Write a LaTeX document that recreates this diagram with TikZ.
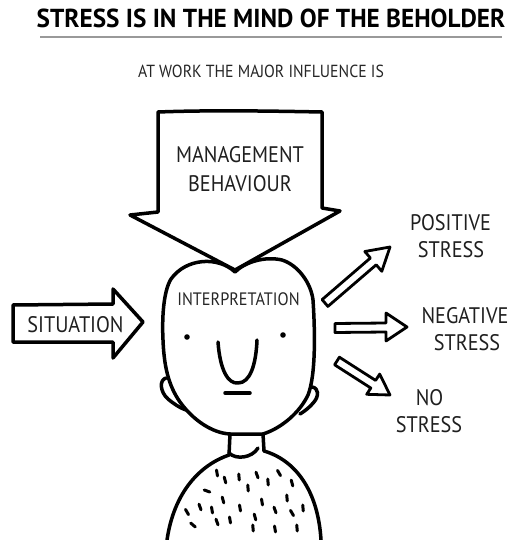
\documentclass[tikz,border=0pt]{standalone}
\usepackage{fontspec}
\setmainfont{PT Sans}
\newfontfamily\narrowfont[FakeStretch=0.9]{PT Sans}
\newfontfamily\titlefont[FakeStretch=0.97]{PT Sans Bold}
\begin{document}
\begin{tikzpicture}[x=1pt,y=-1pt,
  ink/.style={line width=3.5pt, line join=round, line cap=round},
  thinink/.style={line width=2.8pt, line join=round, line cap=round},
  lbl/.style={font=\narrowfont\fontsize{22.5}{24}\selectfont, text=black!88, inner sep=0pt, anchor=base},
  smalllbl/.style={font=\narrowfont\fontsize{17.5}{20}\selectfont, text=black!85, inner sep=0pt, anchor=base},
  speck/.style={line width=3pt, line cap=round}]
\fill[white] (0,0) rectangle (509,540);
\useasboundingbox (0,0) rectangle (509,540);

% heading
\node[font=\titlefont\fontsize{26}{28}\selectfont, inner sep=0pt, anchor=base] (title) at (271,28) {STRESS IS IN THE MIND OF THE BEHOLDER};
\draw[black!40, line width=1.8pt] (40,37) -- (502,37);
\node[smalllbl] (sub) at (261,78) {AT WORK THE MAJOR INFLUENCE IS};

% head
\draw[ink] (235,272) .. controls (218,256) and (186,258) .. (171,279)
  .. controls (163,292) and (162,320) .. (163,340)
  .. controls (164,365) and (168,385) .. (180,402)
  .. controls (193,420) and (212,433) .. (230,434)
  -- (263,434)
  .. controls (282,428) and (300,412) .. (308,395)
  .. controls (316,375) and (315,330) .. (313,300)
  .. controls (311,283) and (298,265) .. (282,260)
  .. controls (265,256) and (245,262) .. (235,272) -- cycle;
% ears
\draw[ink] (166,378) .. controls (159,380) and (160,392) .. (168,399)
  .. controls (174,404) and (180,408) .. (186,410);
\draw[ink] (312,387) .. controls (319,388) and (319,396) .. (314,402)
  .. controls (310,407) and (305,411) .. (300,414);
% face
\fill (187,337) circle (2.8pt);
\fill (283,335) circle (2.8pt);
\draw[ink] (218,342) .. controls (220,370) and (228,384) .. (238,383)
  .. controls (250,383) and (256,365) .. (257,340);
\draw[ink] (225,393) -- (250,393);
% neck, collar and shoulders
\draw[ink] (230,434) -- (229,455);
\draw[ink] (263,434) -- (264,451);
\draw[ink] (229,453) .. controls (236,460) and (252,458) .. (258,448);
\draw[ink] (229,455) .. controls (200,465) and (174,492) .. (167,540);
\draw[ink] (264,451) .. controls (295,460) and (318,490) .. (321,540);
% jumper specks
\foreach \x/\y/\a in {217/473/80,225/480/75,239/477/85,257/475/70,268/482/85,279/473/60,292/483/75,
  207/491/20,248/488/85,287/498/85,223/500/75,262/502/80,
  187/512/60,200/507/70,212/510/80,240/508/80,275/510/70,292/513/60,303/508/85,
  193/525/40,217/522/70,230/520/80,255/517/75,253/528/85,275/529/80,297/528/85}
  \draw[speck] (\x,\y) ++(\a:3) -- ++(\a+180:6);

% management arrow pointing down onto the head
\filldraw[ink, fill=white] (158,112) .. controls (210,110) and (270,111) .. (322,112)
  -- (322,208) -- (340,211) -- (235,270) -- (130,215) -- (158,212) -- cycle;
\node[lbl] (mgmt1) at (240,163) {MANAGEMENT};
\node[lbl] (mgmt2) at (240,191) {BEHAVIOUR};
\node[font=\narrowfont\fontsize{18}{19}\selectfont, text=black!85, inner sep=0pt, anchor=base] (interp) at (238.5,305) {INTERPRETATION};

% situation arrow
\draw[ink] (13,305) -- (113,304) -- (113,289) -- (143,322) -- (113,358) -- (113,342) -- (13,342) -- cycle;
\node[lbl] (sit) at (75.5,332) {SITUATION};

% outcome arrows
\draw[thinink] (327.9,306.4) -- (376.2,264.8) -- (381.8,271.3) -- (390,247) -- (364.8,251.5) -- (370.4,258.0) -- (322.1,299.6) -- cycle;
\draw[thinink] (335,332.5) -- (386,332) -- (386,341) -- (407,327) -- (386,313) -- (386,323) -- (335,323.5) -- cycle;
\draw[thinink] (334.6,364.8) -- (370.8,388.0) -- (366.7,394.3) -- (390,395) -- (379.7,374.1) -- (375.6,380.4) -- (339.4,357.2) -- cycle;

\node[lbl] (pos1) at (450.5,230) {POSITIVE};
\node[lbl] (pos2) at (451,257) {STRESS};
\node[lbl] (neg1) at (465,323) {NEGATIVE};
\node[lbl] (neg2) at (467,350) {STRESS};
\node[lbl] (no1) at (429.5,405) {NO};
\node[lbl] (no2) at (429,432) {STRESS};
\end{tikzpicture}
\end{document}
